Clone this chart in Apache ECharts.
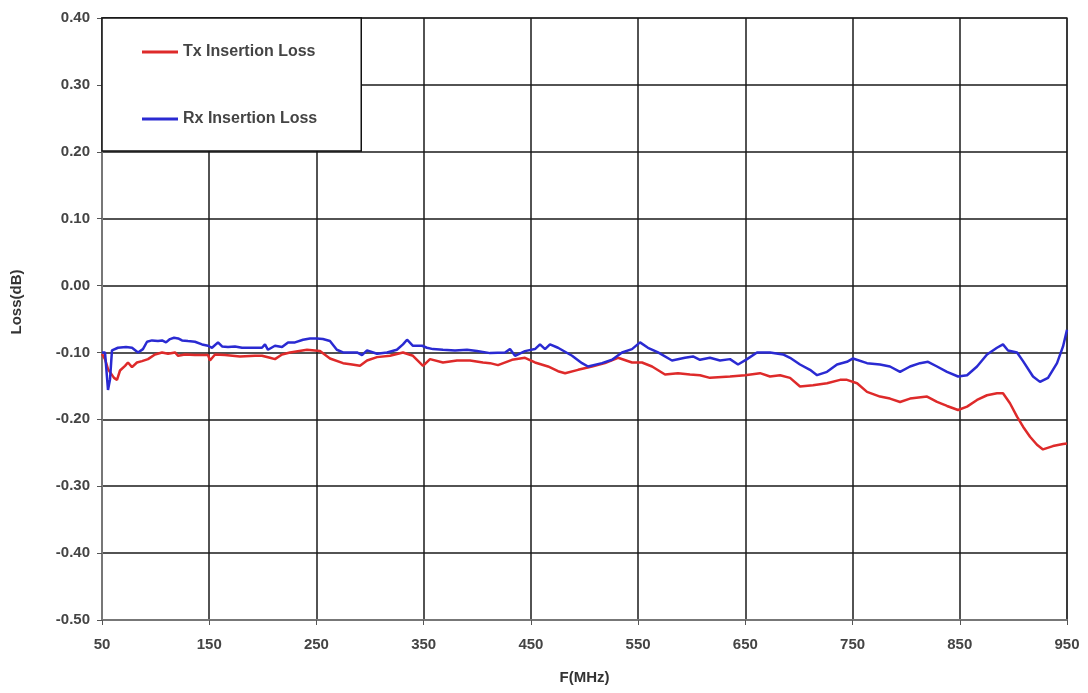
<!DOCTYPE html>
<html>
<head>
<meta charset="utf-8">
<script src="https://cdn.jsdelivr.net/npm/echarts@6/dist/echarts.min.js"></script>
<style>
html,body{margin:0;padding:0;background:#fff;}
#chart{width:1088px;height:693px;}
</style>
</head>
<body>
<div id="chart"></div>
<script>
const seriesNames = ['Tx Insertion Loss', 'Rx Insertion Loss'];
const xTicks = [50,150,250,350,450,550,650,750,850,950];
const yTicks = [-0.5,-0.4,-0.3,-0.2,-0.1,0,0.1,0.2,0.3,0.4];

const txFreq = [50,52.8,55.6,61.2,64,66.8,71.5,74.2,78,82.6,87.3,92.9,99.4,106,111.6,118.1,121,127.4,136.7,148.9,150.7,155.4,164.7,178.7,192.7,199.2,206.7,211.3,217.9,225.3,241.2,253.3,262.6,274.8,283.2,290.6,297.2,306.5,318.6,330.7,340,349.4,355.9,368,381.1,393.2,405.3,411.9,419.3,432.4,444.5,453.8,466,475.3,481.9,494,507,519.1,531.3,544.3,553.6,563,575.1,587.2,598.4,607.7,617,635.7,649.7,663.7,673,682.4,691.7,701,713.1,726.2,738.4,744.8,754.2,763.5,775.6,784.9,794.3,803.6,819.5,828.8,838.1,848.4,856.8,866.1,875.4,884.7,890.3,896.8,903.4,909,915.5,922,927.6,936.9,946.3,950];
const txLoss = [-0.102,-0.11,-0.125,-0.138,-0.141,-0.127,-0.12,-0.115,-0.122,-0.115,-0.113,-0.11,-0.103,-0.1,-0.102,-0.1,-0.105,-0.103,-0.104,-0.104,-0.112,-0.103,-0.104,-0.106,-0.105,-0.105,-0.108,-0.11,-0.103,-0.1,-0.096,-0.098,-0.109,-0.116,-0.118,-0.12,-0.112,-0.107,-0.105,-0.1,-0.105,-0.12,-0.11,-0.115,-0.112,-0.112,-0.115,-0.116,-0.119,-0.111,-0.108,-0.115,-0.121,-0.128,-0.131,-0.126,-0.121,-0.116,-0.108,-0.115,-0.115,-0.121,-0.133,-0.131,-0.133,-0.134,-0.138,-0.136,-0.134,-0.131,-0.136,-0.134,-0.138,-0.151,-0.149,-0.146,-0.141,-0.141,-0.146,-0.159,-0.166,-0.169,-0.174,-0.169,-0.166,-0.174,-0.18,-0.186,-0.181,-0.171,-0.164,-0.161,-0.161,-0.176,-0.196,-0.211,-0.226,-0.238,-0.245,-0.24,-0.237,-0.236];

const rxFreq = [50,52.8,55.6,57.5,59.3,64.9,72.4,78,83.6,88.2,92,96.6,102.2,106,109.7,113.4,117.2,121,124.6,130.2,136.7,143.3,148.9,152.6,158.2,162,167.5,174,180.6,188,195.5,199.2,202,204.8,211.3,217.9,223.5,230,237.5,244,250.5,256,262.6,269,274.8,281.3,287.8,292.5,297.2,306.5,315.8,325,330.7,334.5,340,348.5,353,358.7,368,379.2,390.4,399.7,411.9,425.9,430.5,435.2,444.5,453.8,458.5,463.2,467.8,475.3,488.4,497.7,503.3,516.3,525.7,535,544.3,551.8,559.2,568.6,581.6,593.7,601.2,607.7,617,626.4,635.7,643.2,651.6,660.9,673,685.1,691.7,701,710.3,716.9,726.2,735.5,744.8,750.4,763.5,775.6,784.9,794.3,803.6,812.9,820.4,828.8,838.1,848.4,856.8,866.1,875.4,884.7,890.3,895,903.4,909,918.3,924.8,932.3,940.7,946.3,950];
const rxLoss = [-0.1,-0.1,-0.156,-0.14,-0.097,-0.093,-0.092,-0.093,-0.1,-0.095,-0.084,-0.082,-0.083,-0.082,-0.085,-0.08,-0.078,-0.079,-0.082,-0.083,-0.084,-0.088,-0.09,-0.093,-0.085,-0.091,-0.092,-0.091,-0.093,-0.093,-0.093,-0.093,-0.088,-0.096,-0.09,-0.092,-0.085,-0.085,-0.081,-0.079,-0.079,-0.08,-0.083,-0.096,-0.1,-0.1,-0.1,-0.104,-0.097,-0.102,-0.1,-0.096,-0.088,-0.081,-0.09,-0.09,-0.093,-0.095,-0.096,-0.097,-0.096,-0.098,-0.101,-0.1,-0.095,-0.105,-0.098,-0.095,-0.088,-0.095,-0.088,-0.093,-0.105,-0.116,-0.121,-0.116,-0.111,-0.1,-0.095,-0.085,-0.093,-0.1,-0.112,-0.108,-0.106,-0.111,-0.108,-0.112,-0.11,-0.118,-0.11,-0.1,-0.1,-0.103,-0.108,-0.118,-0.126,-0.134,-0.129,-0.118,-0.114,-0.109,-0.116,-0.118,-0.121,-0.129,-0.121,-0.116,-0.114,-0.121,-0.129,-0.136,-0.134,-0.121,-0.103,-0.093,-0.088,-0.097,-0.1,-0.113,-0.136,-0.144,-0.138,-0.116,-0.091,-0.066];

const zip = (xs, ys) => xs.map((x, i) => [x, ys[i]]);
const FONT = "'Liberation Sans', Arial, sans-serif";

const chart = echarts.init(document.getElementById('chart'), null, {renderer: 'canvas'});
chart.setOption({
  backgroundColor: '#ffffff',
  animation: false,
  grid: {left: 102, right: 21, top: 18, bottom: 73, containLabel: false,
         show: true, borderColor: '#9a9a9a', borderWidth: 2},
  legend: {
    left: 102, top: 18, orient: 'vertical',
    backgroundColor: '#ffffff', borderColor: '#111', borderWidth: 1.5,
    padding: [26, 44, 24, 40], itemGap: 51,
    icon: 'rect', itemWidth: 36, itemHeight: 3,
    textStyle: {fontFamily: FONT, fontSize: 16, fontWeight: 'bold', color: '#444'},
    data: seriesNames
  },
  xAxis: {
    type: 'value', min: xTicks[0], max: xTicks[xTicks.length-1], interval: 100,
    name: 'F(MHz)', nameLocation: 'middle', nameGap: 50,
    nameTextStyle: {fontFamily: FONT, fontSize: 15, fontWeight: 'bold', color: '#333'},
    axisLine: {show: true, onZero: false, lineStyle: {color: '#777', width: 2}},
    axisTick: {show: true, length: 5, lineStyle: {color: '#555'}},
    axisLabel: {fontFamily: FONT, fontSize: 15, fontWeight: 'bold', color: '#444', margin: 17},
    splitLine: {show: true, lineStyle: {color: '#1a1a1a', width: 1.5}}
  },
  yAxis: {
    type: 'value', min: yTicks[0], max: yTicks[yTicks.length-1], interval: 0.1,
    name: 'Loss(dB)', nameLocation: 'middle', nameGap: 78, nameRotate: 90,
    nameTextStyle: {fontFamily: FONT, fontSize: 15, fontWeight: 'bold', color: '#333',
                    padding: [0, 0, 0, 34]},
    axisLine: {show: true, onZero: false, lineStyle: {color: '#777', width: 2}},
    axisTick: {show: true, length: 5, lineStyle: {color: '#555'}},
    axisLabel: {fontFamily: FONT, fontSize: 15, fontWeight: 'bold', color: '#444', margin: 12,
                formatter: v => v.toFixed(2)},
    splitLine: {show: true, lineStyle: {color: '#1a1a1a', width: 1.5}}
  },
  series: [
    {name: seriesNames[0], type: 'line', data: zip(txFreq, txLoss), showSymbol: false, symbol: 'none',
     lineStyle: {color: '#de2a2a', width: 2.5}, itemStyle: {color: '#de2a2a'}, z: 3},
    {name: seriesNames[1], type: 'line', data: zip(rxFreq, rxLoss), showSymbol: false, symbol: 'none',
     lineStyle: {color: '#2a2ad2', width: 2.5}, itemStyle: {color: '#2a2ad2'}, z: 4}
  ]
});
</script>
</body>
</html>
